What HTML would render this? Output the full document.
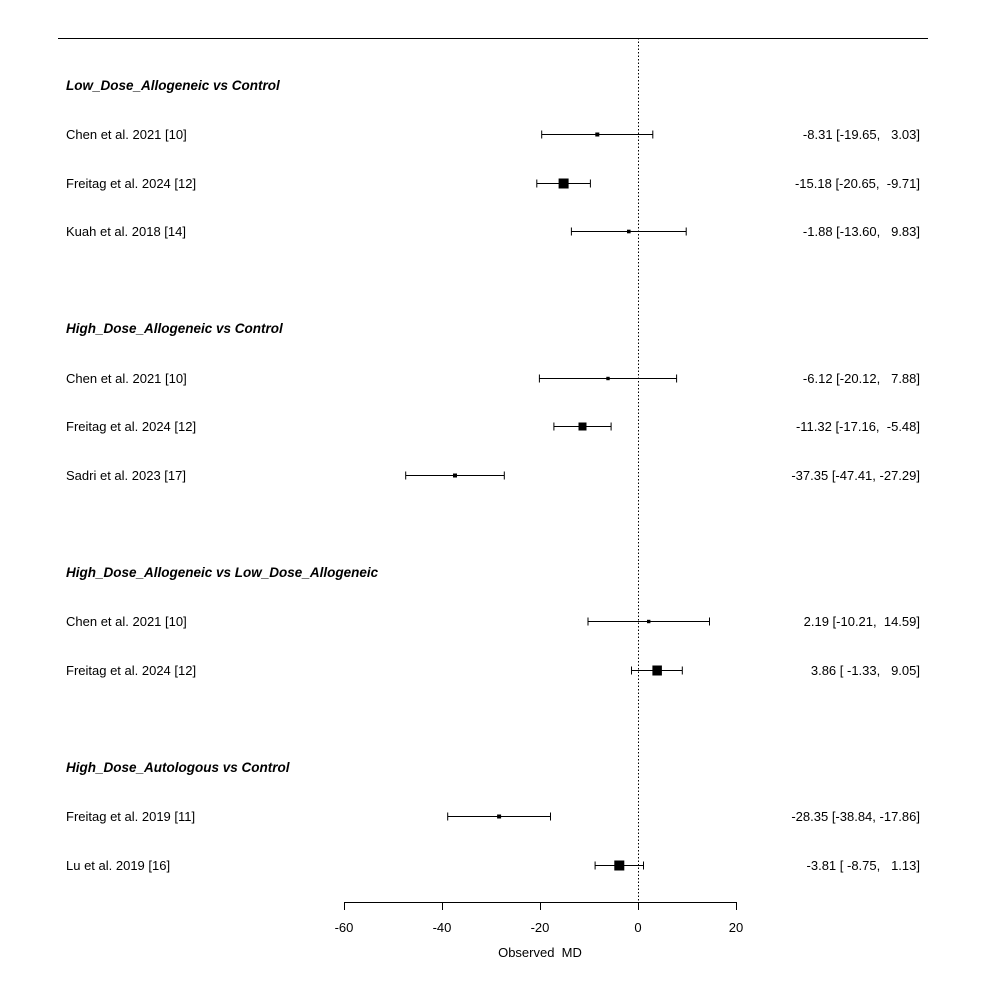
<!DOCTYPE html>
<html><head><meta charset="utf-8"><style>html,body{margin:0;padding:0;background:#fff}.pre{white-space:pre}</style></head>
<body>
<svg width="986" height="986" xmlns="http://www.w3.org/2000/svg" font-family="'Liberation Sans', sans-serif" font-size="13" fill="#000">
<line x1="58" y1="38.5" x2="928" y2="38.5" stroke="#000" stroke-width="1"/>
<line x1="638.5" y1="38" x2="638.5" y2="902" stroke="#000" stroke-width="1" stroke-dasharray="1.5,2"/>
<g font-weight="bold" font-style="italic" font-size="13.5">
<text x="66" y="90">Low_Dose_Allogeneic vs Control</text>
<text x="66" y="333">High_Dose_Allogeneic vs Control</text>
<text x="66" y="577">High_Dose_Allogeneic vs Low_Dose_Allogeneic</text>
<text x="66" y="772">High_Dose_Autologous vs Control</text>
</g>
<g>
<text x="66" y="139">Chen et al. 2021 [10]</text>
<text x="66" y="188">Freitag et al. 2024 [12]</text>
<text x="66" y="236">Kuah et al. 2018 [14]</text>
<text x="66" y="383">Chen et al. 2021 [10]</text>
<text x="66" y="431">Freitag et al. 2024 [12]</text>
<text x="66" y="480">Sadri et al. 2023 [17]</text>
<text x="66" y="626">Chen et al. 2021 [10]</text>
<text x="66" y="675">Freitag et al. 2024 [12]</text>
<text x="66" y="821">Freitag et al. 2019 [11]</text>
<text x="66" y="870">Lu et al. 2019 [16]</text>
</g>
<g text-anchor="end" class="pre">
<text class="pre" x="920" y="139">-8.31 [-19.65,   3.03]</text>
<text class="pre" x="920" y="188">-15.18 [-20.65,  -9.71]</text>
<text class="pre" x="920" y="236">-1.88 [-13.60,   9.83]</text>
<text class="pre" x="920" y="383">-6.12 [-20.12,   7.88]</text>
<text class="pre" x="920" y="431">-11.32 [-17.16,  -5.48]</text>
<text class="pre" x="920" y="480">-37.35 [-47.41, -27.29]</text>
<text class="pre" x="920" y="626">2.19 [-10.21,  14.59]</text>
<text class="pre" x="920" y="675">3.86 [ -1.33,   9.05]</text>
<text class="pre" x="920" y="821">-28.35 [-38.84, -17.86]</text>
<text class="pre" x="920" y="870">-3.81 [ -8.75,   1.13]</text>
</g>
<g stroke="#000" stroke-width="1">
<path d="M541.7 134.5H652.8M541.7 130.5v8M652.8 130.5v8"/>
<path d="M536.8 183.5H590.4M536.8 179.5v8M590.4 179.5v8"/>
<path d="M571.4 231.5H686.2M571.4 227.5v8M686.2 227.5v8"/>
<path d="M539.4 378.5H676.6M539.4 374.5v8M676.6 374.5v8"/>
<path d="M553.9 426.5H611.1M553.9 422.5v8M611.1 422.5v8"/>
<path d="M405.7 475.5H504.3M405.7 471.5v8M504.3 471.5v8"/>
<path d="M588 621.5H709.5M588 617.5v8M709.5 617.5v8"/>
<path d="M631.5 670.5H682.3M631.5 666.5v8M682.3 666.5v8"/>
<path d="M447.7 816.5H550.5M447.7 812.5v8M550.5 812.5v8"/>
<path d="M595.1 865.5H643.5M595.1 861.5v8M643.5 861.5v8"/>
</g>
<g>
<rect x="595.3" y="132.5" width="4" height="4"/>
<rect x="558.6" y="178.5" width="10" height="10"/>
<rect x="627" y="229.7" width="3.6" height="3.6"/>
<rect x="606.3" y="376.8" width="3.4" height="3.4"/>
<rect x="578.5" y="422.5" width="8" height="8"/>
<rect x="453" y="473.5" width="4" height="4"/>
<rect x="647" y="619.8" width="3.4" height="3.4"/>
<rect x="652.4" y="665.5" width="9.5" height="10"/>
<rect x="497.1" y="814.5" width="4" height="4"/>
<rect x="614.3" y="860.5" width="10" height="10"/>
</g>
<g stroke="#000" stroke-width="1">
<path d="M344 902.5H736.5M344.5 902v8M442.5 902v8M540.5 902v8M638.5 902v8M736.5 902v8"/>
</g>
<g text-anchor="middle">
<text x="344" y="932">-60</text>
<text x="442" y="932">-40</text>
<text x="540" y="932">-20</text>
<text x="638" y="932">0</text>
<text x="736" y="932">20</text>
<text class="pre" x="540" y="957">Observed  MD</text>
</g>
</svg>
</body></html>
